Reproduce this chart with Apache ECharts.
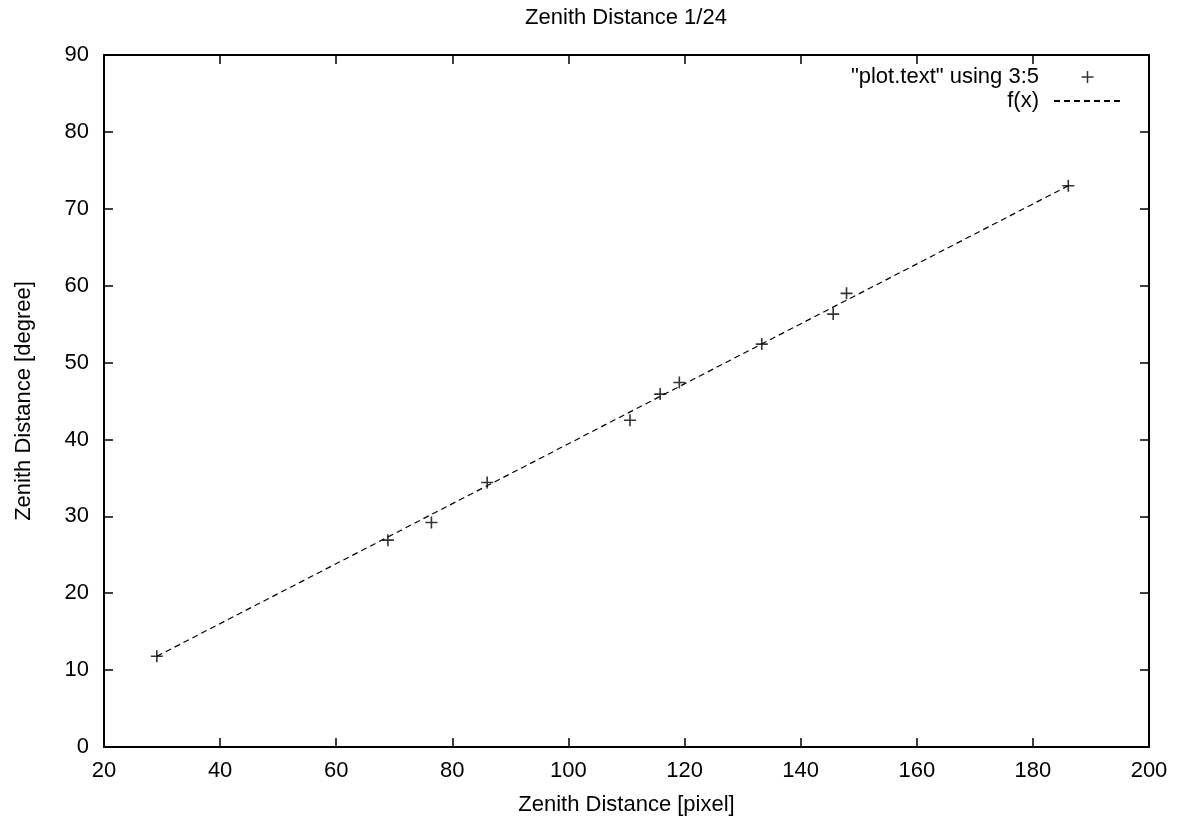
<!DOCTYPE html>
<html>
<head>
<meta charset="utf-8">
<script src="https://cdn.jsdelivr.net/npm/echarts@6/dist/echarts.min.js"></script>
<style>
  html, body { margin: 0; padding: 0; background: #fff; }
  #chart { width: 1181px; height: 823px; }
</style>
</head>
<body>
<div id="chart"></div>
<script>
// measured points, "plot.text" using 3:5
var pixelX = [29.1, 68.9, 76.4, 86.0, 110.6, 115.8, 119.1, 133.3, 145.6, 147.9, 186.1]
var degreeY = [11.8, 26.9, 29.2, 34.4, 42.5, 45.9, 47.4, 52.4, 56.3, 59.0, 73.0]
// fitted line f(x), end points
var fitX = [29.1, 186.1]
var fitY = [11.8, 73.0]

var font = 'Liberation Sans, Arial, Helvetica, sans-serif'
var plus = 'path://M0,5L10,5M5,0L5,10'

var points = []
for (var i = 0; i < pixelX.length; i++) {
  points.push([pixelX[i], degreeY[i]])
}
var fitLine = []
for (var j = 0; j < fitX.length; j++) {
  fitLine.push([fitX[j], fitY[j]])
}

var frame = { show: true, onZero: false, lineStyle: { color: '#000', width: 2 } }
var ticks = { show: true, inside: true, length: 9, lineStyle: { color: '#000', width: 1.5 } }

var option = {
  backgroundColor: '#fff',
  animation: false,
  textStyle: { fontFamily: font, color: '#000' },
  title: {
    text: 'Zenith Distance 1/24',
    left: 626,
    textAlign: 'center',
    top: 7,
    padding: 0,
    textStyle: { fontFamily: font, fontSize: 22, fontWeight: 'normal', color: '#000' }
  },
  legend: {
    orient: 'vertical',
    right: 59,
    top: 66,
    align: 'right',
    itemWidth: 67,
    itemHeight: 12,
    itemGap: 2,
    padding: 0,
    textStyle: { fontFamily: font, fontSize: 22, color: '#000', padding: [0, 10, 0, 0] },
    data: [
      { name: '"plot.text" using 3:5', icon: plus, itemStyle: { color: 'none', borderColor: '#000', borderWidth: 1.5 } },
      { name: 'f(x)', itemStyle: { opacity: 0 } }
    ]
  },
  grid: { left: 104, right: 32, top: 55, bottom: 76 },
  xAxis: [{
    type: 'value',
    min: 20,
    max: 200,
    interval: 20,
    name: 'Zenith Distance [pixel]',
    nameLocation: 'middle',
    nameGap: 47,
    nameTextStyle: { fontFamily: font, fontSize: 22, color: '#000' },
    axisLine: frame,
    axisTick: ticks,
    axisLabel: { fontFamily: font, fontSize: 22, color: '#000', margin: 13 },
    splitLine: { show: false }
  }, {
    type: 'value',
    position: 'top',
    min: 20,
    max: 200,
    interval: 20,
    axisLine: frame,
    axisTick: ticks,
    axisLabel: { show: false },
    splitLine: { show: false }
  }],
  yAxis: [{
    type: 'value',
    min: 0,
    max: 90,
    interval: 10,
    name: 'Zenith Distance [degree]',
    nameLocation: 'middle',
    nameGap: 69,
    nameTextStyle: { fontFamily: font, fontSize: 22, color: '#000' },
    axisLine: frame,
    axisTick: ticks,
    axisLabel: { fontFamily: font, fontSize: 22, color: '#000', margin: 15 },
    splitLine: { show: false }
  }, {
    type: 'value',
    position: 'right',
    min: 0,
    max: 90,
    interval: 10,
    axisLine: frame,
    axisTick: ticks,
    axisLabel: { show: false },
    splitLine: { show: false }
  }],
  series: [{
    name: '"plot.text" using 3:5',
    type: 'scatter',
    symbol: plus,
    symbolSize: 12,
    itemStyle: { color: 'none', borderColor: '#000', borderWidth: 1.6 },
    data: points,
    z: 3
  }, {
    name: 'f(x)',
    type: 'line',
    symbol: 'none',
    lineStyle: { color: '#000', width: 1.2, type: [6, 4] },
    itemStyle: { color: '#000' },
    data: fitLine,
    z: 2
  }]
}

var myChart = echarts.init(document.getElementById('chart'))
myChart.setOption(option)
</script>
</body>
</html>
